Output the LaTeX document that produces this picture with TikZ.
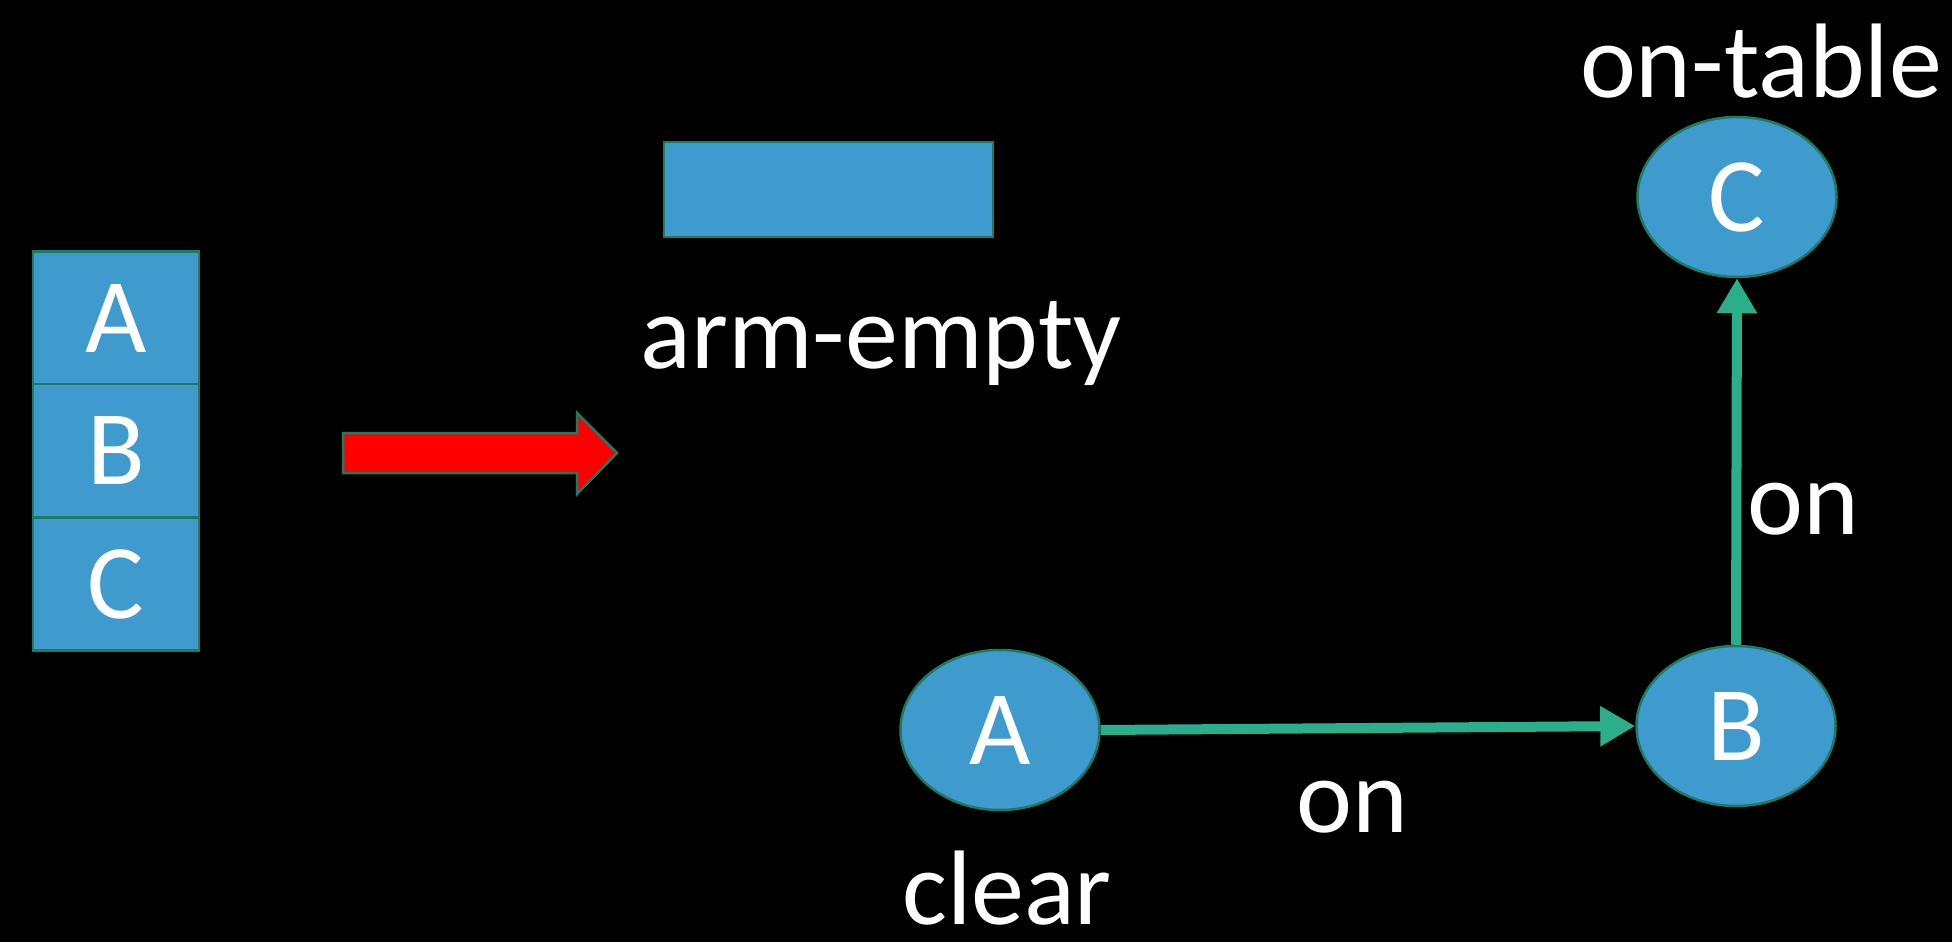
\documentclass[tikz,border=0pt]{standalone}
\usepackage{fontspec}
\setmainfont{Carlito}
\usetikzlibrary{shapes.geometric,arrows.meta}
\definecolor{boxblue}{RGB}{63,155,205}
\definecolor{edgeteal}{RGB}{31,122,99}
\definecolor{linkgreen}{RGB}{43,174,138}
\definecolor{bigred}{RGB}{255,0,0}
\tikzset{
  txt/.style={text=white,font=\fontsize{106}{120}\selectfont,inner sep=0pt},
  stackbox/.style={rectangle,draw=edgeteal,line width=2.5pt,fill=boxblue,minimum width=166pt,minimum height=133pt,inner sep=0pt,txt},
  blob/.style={ellipse,draw=edgeteal,line width=2.5pt,fill=boxblue,minimum width=199pt,minimum height=160pt,inner sep=0pt,txt},
  link/.style={draw=linkgreen,line width=10pt,-{Triangle[length=35pt,width=38pt]}},
  lbl/.style={txt,anchor=base}
}
\begin{document}
\begin{tikzpicture}[x=1pt,y=-1pt]
\fill[black] (0,0) rectangle (1952,942);
\useasboundingbox (0,0) rectangle (1952,942);
% stack of blocks
\node[stackbox] (sA) at (116,318) {A};
\node[stackbox] (sB) at (116,450.5) {B};
\node[stackbox] (sC) at (116,584) {C};
% red block arrow
\draw[draw=edgeteal,line width=2.5pt,fill=bigred,line join=miter]
  (343,433) -- (577,433) -- (577,413) -- (617,453) -- (577,494) -- (577,473) -- (343,473) -- cycle;
% arm
\node[rectangle,draw=edgeteal,line width=2.5pt,fill=boxblue,minimum width=329pt,minimum height=95pt,inner sep=0pt] (arm) at (828.5,189.5) {};
\node[lbl] (armlbl) at (881,368) {arm-empty};
% graph
\node[blob] (A) at (1000,730) {A};
\node[blob] (B) at (1736,726) {B};
\node[blob] (C) at (1737,197) {C};
\draw[link] (A.east) -- (B.west);
\draw[link] (B.north) -- (C.south);
\node[lbl] (ontable) at (1761,97) {on-table};
\node[lbl] (clear) at (1007,924) {clear};
\node[lbl] (onAB) at (1352,832) {on};
\node[lbl] (onBC) at (1803,534) {on};
\end{tikzpicture}
\end{document}
